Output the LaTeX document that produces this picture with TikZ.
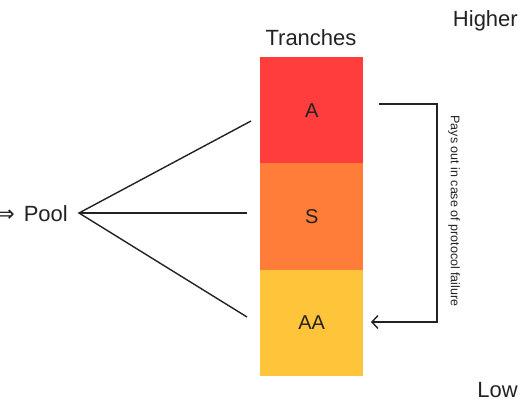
\documentclass[tikz,border=0pt]{standalone}
\usepackage{fontspec}
\setmainfont{Liberation Sans}
\newfontfamily\symfont{DejaVu Sans}
\usetikzlibrary{arrows.meta}
\definecolor{trancheA}{HTML}{FF3D3D}
\definecolor{trancheS}{HTML}{FF7D38}
\definecolor{trancheAA}{HTML}{FFC53A}
\definecolor{ink}{HTML}{222222}
\begin{document}
\begin{tikzpicture}[x=1pt, y=-1pt, >={Straight Barb[length=6pt,width=13pt]},
    txt/.style={inner sep=0pt, font=\fontsize{22}{26}\selectfont, text=ink},
    tranche/.style={minimum width=103pt, minimum height=106.5pt, inner sep=0pt,
        anchor=north west, font=\fontsize{20}{24}\selectfont, text=ink},
    link/.style={line width=1.4pt, ink}]
            \useasboundingbox (0, 0) rectangle (520, 400);

            \node[txt, anchor=base east] (pool) at (68, 221) {{\symfont ⇒}\hspace{9pt}Pool};

            \node[tranche, fill=trancheA] (a) at (260, 57) {A};
            \node[tranche, fill=trancheS] (s) at (260, 163) {S};
            \node[tranche, fill=trancheAA] (aa) at (260, 269.5) {AA};

            \node[txt, anchor=base] (title) at (311, 45) {Tranches};
            \node[txt, anchor=base east] (higher) at (518, 26) {Higher};
            \node[txt, anchor=base east] (low) at (518, 397) {Low};

            \coordinate (tip) at (79, 213);
            \coordinate (endA) at (251, 121);
            \coordinate (endS) at (247, 213);
            \coordinate (endAA) at (247, 317);
            \draw[link] (endA) -- (tip) -- (endAA);
            \draw[link] (tip) -- (endS);

            \coordinate (payTop) at (379, 104);
            \coordinate (payBot) at (371, 322);
            \draw[link, ->] (payTop) -- (437, 104) -- (437, 322) -- (payBot);
            \node[inner sep=0pt, rotate=-90, font=\fontsize{12.5}{15}\selectfont, text=ink] (pays)
                at (454, 211) {Pays out in case of protocol failure};
        \end{tikzpicture}
\end{document}
